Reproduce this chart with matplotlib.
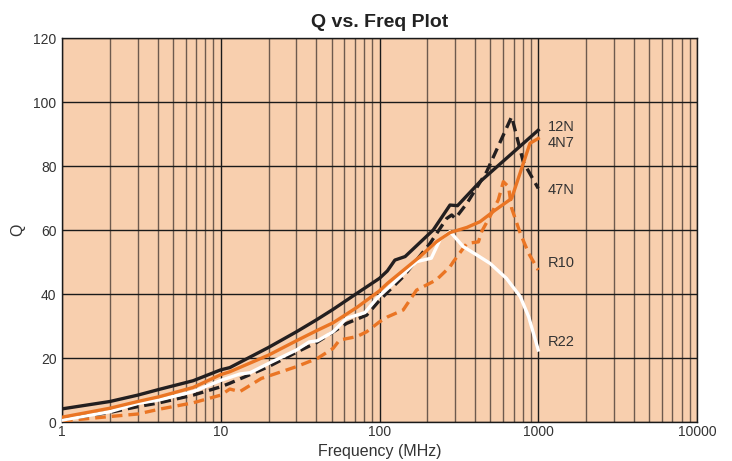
import matplotlib
matplotlib.use("Agg")
import matplotlib.pyplot as plt
from matplotlib.ticker import FixedLocator, NullFormatter

plt.rcParams['font.family'] = ['Liberation Sans', 'DejaVu Sans']

# 12N (solid black)
f_12n = [1, 2, 3, 4.1, 6.7, 10, 11.4, 20, 30, 40, 51, 72, 100, 112, 125, 145, 218, 278, 310, 430, 1000]
q_12n = [4.1, 6.4, 8.4, 10.2, 12.9, 16.3, 17.0, 23.3, 28.2, 31.9, 35.2, 40.2, 44.9, 47.2, 50.6, 51.7, 60.0, 67.8, 67.6, 75.1, 91.2]

# 4N7 (solid orange)
f_4n7 = [1, 2, 3, 4.1, 6.7, 10, 11.4, 20, 30, 40, 51, 72, 100, 112, 180, 228, 278, 355, 430, 535, 660, 680, 887, 1000]
q_4n7 = [1.5, 4.3, 6.4, 7.9, 10.8, 14.8, 15.7, 20.9, 25.4, 28.5, 31.0, 35.8, 41.0, 43.3, 51.7, 56.3, 59.2, 60.8, 62.6, 66.2, 69.4, 69.9, 87.1, 88.6]

# 47N (dashed black)
f_47n = [1, 2, 3, 4.1, 6.7, 10, 11.4, 20, 30, 40, 62, 83, 100, 113, 141, 208, 265, 285, 300, 355, 473, 680, 805, 1000]
q_47n = [0.8, 3.0, 4.8, 6.0, 8.4, 11.0, 12.1, 17.3, 21.8, 24.8, 30.8, 33.4, 38.0, 40.7, 45.4, 55.8, 63.6, 64.7, 63.6, 68.3, 78.2, 95.4, 81.3, 73.0]

# R10 (dashed orange)
f_r10 = [1, 2, 3, 4.1, 6.7, 10, 11.4, 13.2, 18, 30, 40.7, 51, 56, 72, 83, 100, 113, 141, 171, 228, 278, 292, 355, 420, 440, 496, 560, 603, 650, 680, 770, 870, 1000]
q_r10 = [0.3, 1.7, 2.5, 4.0, 6.0, 8.4, 10.3, 9.5, 13.6, 17.3, 19.9, 23.0, 25.6, 26.7, 28.2, 31.3, 32.9, 35.0, 41.2, 44.4, 48.5, 50.1, 55.8, 56.3, 59.5, 64.2, 69.4, 75.1, 73.5, 66.8, 59.0, 52.7, 47.5]

# R22 (solid white)
f_r22 = [1, 2, 2.55, 3, 4.1, 6.7, 10, 13.2, 15.3, 20, 30, 36, 40.7, 51, 62, 81, 96, 113, 171, 212, 240, 278, 337, 410, 496, 630, 770, 870, 1000]
q_r22 = [0.6, 3.2, 4.8, 5.8, 6.9, 9.5, 13.0, 15.0, 15.4, 18.3, 22.5, 25.0, 25.4, 28.2, 32.4, 34.2, 38.6, 41.8, 50.1, 51.2, 56.9, 59.5, 54.8, 52.2, 49.6, 44.9, 39.2, 32.9, 22.5]

labels = ["12N", "4N7", "47N", "R10", "R22"]
label_q = [92.2, 87.2, 72.5, 49.7, 25.0]
label_f = 1150

xticks = [1, 10, 100, 1000, 10000]
xticklabels = ["1", "10", "100", "1000", "10000"]
yticks = [0, 20, 40, 60, 80, 100, 120]

BLACK = "#231F20"
ORANGE = "#EA7524"
BG = "#F8CFAE"

fig = plt.figure(figsize=(7.32, 4.61), dpi=100)
ax = fig.add_axes([62/732, 39/461, 635/732, 384/461])
ax.set_facecolor(BG)
ax.set_xscale("log")
ax.set_xlim(1, 10000)
ax.set_ylim(0, 120)

minor = [m * 10**d for d in range(0, 4) for m in range(2, 10)]
ax.xaxis.set_major_locator(FixedLocator(xticks))
ax.xaxis.set_minor_locator(FixedLocator(minor))
ax.xaxis.set_minor_formatter(NullFormatter())
ax.set_xticks(xticks)
ax.set_xticklabels(xticklabels)
ax.set_yticks(yticks)
ax.tick_params(axis="both", which="both", length=0, labelsize=10, labelcolor="#333333")
ax.tick_params(axis="x", pad=2)
ax.tick_params(axis="y", pad=4)

ax.grid(True, which="major", color="#1a1a1a", linewidth=1.0, zorder=1)
ax.grid(True, which="minor", axis="x", color="#6e5a4e", linewidth=1.0, zorder=1)
ax.set_axisbelow(True)
for s in ax.spines.values():
    s.set_color("#1a1a1a")
    s.set_linewidth(1.0)

lw = 2.4
dash = (0, (3.2, 1.8))
ax.plot(f_r10, q_r10, color=ORANGE, lw=lw, ls=dash, zorder=3)
ax.plot(f_47n, q_47n, color=BLACK, lw=lw, ls=dash, zorder=3.5)
ax.plot(f_r22, q_r22, color="white", lw=lw, zorder=4)
ax.plot(f_4n7, q_4n7, color=ORANGE, lw=lw, zorder=4.5)
ax.plot(f_12n, q_12n, color=BLACK, lw=lw, zorder=5)

for lab, q in zip(labels, label_q):
    ax.text(label_f, q, lab, fontsize=10.5, color="#333333", va="center", ha="left", zorder=6)

ax.set_xlabel("Frequency (MHz)", fontsize=11.5, color="#333333", labelpad=4)
ax.set_ylabel("Q", fontsize=11.5, color="#333333", labelpad=6)
ax.set_title("Q vs. Freq Plot", fontsize=14, fontweight="bold", color="#222222", pad=8)

fig.savefig("out.png", dpi=100)
